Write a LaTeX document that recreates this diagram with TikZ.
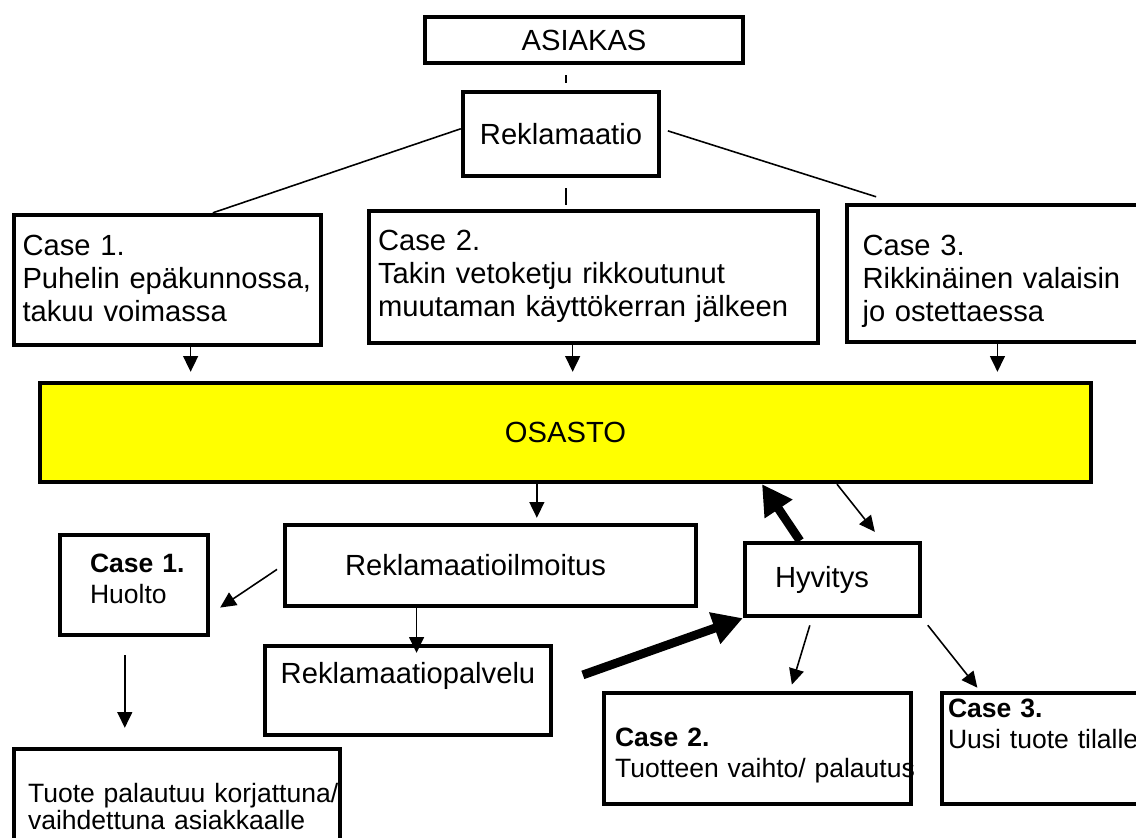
\documentclass[tikz,border=0pt]{standalone}
\usepackage{fontspec}
\setmainfont{Liberation Sans}
\usetikzlibrary{arrows.meta}
\definecolor{osastoY}{RGB}{255,255,0}
\newcommand{\fontL}{\fontsize{16.6pt}{19pt}\selectfont}
\newcommand{\fontS}{\fontsize{15.1pt}{18pt}\selectfont}

\begin{document}
\begin{tikzpicture}[x=0.02cm,y=-0.02cm,
  box/.style={draw,line width=2.5pt,inner sep=0pt,font=\fontL},
  boxs/.style={box,font=\fontS},
  conn/.style={line width=0.9pt},
  arr/.style={conn,-{Triangle[length=9pt,width=8.5pt]}},
  fat/.style={line width=5pt,-{Triangle[length=17pt,width=18pt]}}]
  \useasboundingbox (0,0) rectangle (1136,838);
  \clip (0,0) rectangle (1136,838);
  \node[box,minimum width=6.36cm,minimum height=0.92cm] (asiakas) at (584,40) {ASIAKAS};
  \node[box,minimum width=3.92cm,minimum height=1.68cm] (rekl) at (561,134) {Reklamaatio};
  \node[box,align=left,minimum width=6.14cm,text width=5.8cm,text height=0.8cm,text depth=1.8cm] (caseA) at (167.5,280) {Case~1.\\Puhelin epäkunnossa,\\takuu voimassa};
  \node[box,align=left,minimum width=8.98cm,text width=8.62cm,text height=0.78cm,text depth=1.86cm] (caseB) at (593.5,277) {Case~2.\\Takin vetoketju rikkoutunut\\muutaman käyttökerran jälkeen};
  \node[box,align=left,minimum width=5.82cm,text width=5.2cm,text height=1.0cm,text depth=1.74cm] (caseC) at (992.5,273.5) {Case~3.\\Rikkinäinen valaisin\\jo ostettaessa};
  \node[box,fill=osastoY,minimum width=21.02cm,minimum height=1.98cm] (osasto) at (565.5,432.5) {OSASTO};
  \node[box,align=left,minimum width=8.22cm,minimum height=1.62cm,text width=5.82cm] (ilmo) at (490.5,565.5) {Reklamaatioilmoitus};
  \node[boxs,align=left,minimum width=2.96cm,text width=1.76cm,text height=0.74cm,text depth=1.26cm] (huolto) at (134,585) {\textbf{Case~1.}\\Huolto};
  \node[boxs,align=left,minimum width=6.52cm,text width=5.96cm,text height=1.06cm,text depth=1.3cm,font=\fontsize{15.1pt}{15.5pt}\selectfont] (tuote) at (177,808) {\mbox{Tuote palautuu korjattuna/}\\vaihdettuna asiakkaalle};
  \node[box,minimum width=5.72cm,text height=0.74cm,text depth=1.04cm] (palvelu) at (408,690.5) {Reklamaatiopalvelu};
  \node[box,align=left,minimum width=3.5cm,minimum height=1.46cm,text width=2.3cm] (hyvitys) at (832.5,579.5) {Hyvitys};
  \node[boxs,align=left,minimum width=6.14cm,text width=5.7cm,text height=1.06cm,text depth=1.16cm] (caseE) at (757.5,748.5) {\textbf{Case~2.}\\\mbox{Tuotteen vaihto/ palautus}};
  \node[boxs,align=left,minimum width=3.92cm,text width=3.68cm,text height=0.48cm,text depth=1.74cm] (caseF) at (1040,748.5) {\textbf{Case~3.}\\\mbox{Uusi tuote tilalle}};

  \draw[conn] ([shift={(-18,10)}]asiakas.south) -- ([shift={(5,-7)}]rekl.north);
  \draw[conn] ([shift={(5,10)}]rekl.south) -- ([shift={(-27.5,-4)}]caseB.north);
  \draw[conn] (rekl.177) -- (caseA.56);
  \draw[conn,shorten <=0.14cm,shorten >=0.4cm] (rekl.3) -- (caseC.144);

  \draw[arr,shorten >=0.18cm] (caseA.289) -- (caseA.289 |- osasto.north);
  \draw[arr,shorten >=0.18cm] (caseB.253) -- (caseB.253 |- osasto.north);
  \draw[arr,shorten >=0.18cm] (caseC.274) -- (caseC.274 |- osasto.north);

  \draw[arr,shorten >=0.1cm] (osasto.241) -- (osasto.241 |- ilmo.north);
  \draw[arr,shorten <=0.14cm,shorten >=0.24cm] (ilmo.west) -- (huolto.339);
  \draw[arr,shorten >=-0.18cm] (ilmo.210) -- (ilmo.210 |- palvelu.north);
  \draw[arr,shorten <=0.36cm,shorten >=0.38cm] (huolto.260) -- (huolto.260 |- tuote.north);

  \draw[fat,shorten <=0.63cm] (palvelu.2) -- (hyvitys.south west);
  \draw[fat] ([shift={(-32.5,0)}]hyvitys.north) -- ([shift={(196.5,0)}]osasto.south);
  \draw[arr,shorten >=0.23cm] ([shift={(271.5,0)}]osasto.south) -- ([shift={(49.5,0)}]hyvitys.north);
  \draw[arr,shorten <=0.15cm,shorten >=0.13cm] ([shift={(-20.5,0)}]hyvitys.south) -- ([shift={(32.5,0)}]caseE.north);
  \draw[arr,shorten <=0.18cm,shorten >=0.08cm] (hyvitys.south east) -- ([shift={(40,0)}]caseF.north west);
\end{tikzpicture}
\end{document}
